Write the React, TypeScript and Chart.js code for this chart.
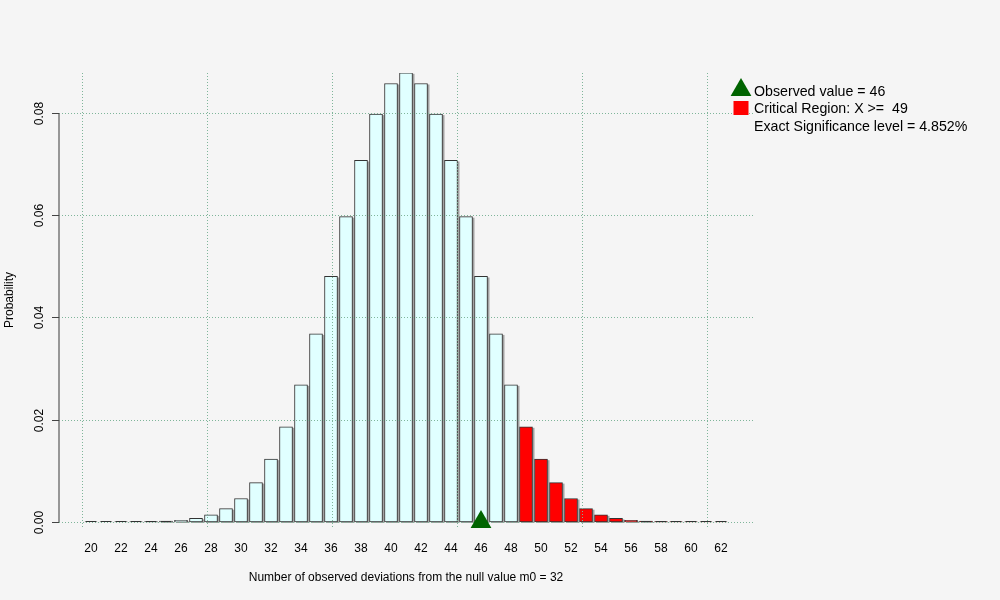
import React, { useEffect, useRef } from 'react';
import { Chart, registerables } from 'chart.js';

Chart.register(...registerables);

// ---- data ----
const outcomes = [
  20, 21, 22, 23, 24, 25, 26, 27, 28, 29, 30, 31, 32, 33, 34, 35, 36, 37, 38, 39, 40,
  41, 42, 43, 44, 45, 46, 47, 48, 49, 50, 51, 52, 53, 54, 55, 56, 57, 58, 59, 60, 61, 62,
];
const probabilities = [
  0.0000013, 0.0000038, 0.0000105, 0.0000274, 0.0000674, 0.000156, 0.000343, 0.000711,
  0.001397, 0.002601, 0.004594, 0.007707, 0.01228, 0.01861, 0.02682, 0.03678, 0.04802,
  0.0597, 0.0707, 0.07977, 0.08575, 0.08784, 0.08575, 0.07977, 0.0707, 0.0597, 0.04802,
  0.03678, 0.02682, 0.01861, 0.01228, 0.007707, 0.004594, 0.002601, 0.001397, 0.000711,
  0.000343, 0.000156, 0.0000674, 0.0000274, 0.0000105, 0.0000038, 0.0000013,
];
const observedValue = 46;
const criticalValue = 49;
const significanceText = '4.852%';
const xTickValues = [20, 22, 24, 26, 28, 30, 32, 34, 36, 38, 40, 42, 44, 46, 48, 50, 52, 54, 56, 58, 60, 62];
const yTickValues = [0, 0.02, 0.04, 0.06, 0.08];
const yTickLabels = ['0.00', '0.02', '0.04', '0.06', '0.08'];
const xGridValues = [19.4, 27.733, 36.067, 44.4, 52.733, 61.067];
const xAxisTitle = 'Number of observed deviations from the null value m0 = 32';
const yAxisTitle = 'Probability';
const legendLines = [
  `Observed value = ${observedValue}`,
  `Critical Region: X >=  ${criticalValue}`,
  `Exact Significance level = ${significanceText}`,
];

// ---- style ----
const FONT = '"Liberation Sans", Arial, Helvetica, sans-serif';
const BG = '#f5f5f5';
const GRID = '#7fb59a';
const CYAN = '#e0ffff';
const RED = '#ff0000';
const GREEN = '#006400';

const rPlotPlugin = {
  id: 'rPlot',
  beforeDatasetDraw(chart: any, args: any) {
    if (args.index !== 0) return;
    const ctx = chart.ctx;
    ctx.save();
    ctx.fillStyle = '#a3a3a3';
    chart.getDatasetMeta(0).data.forEach((el: any) => {
      const p = el.getProps(['x', 'y', 'base', 'width'], true);
      ctx.fillRect(p.x - p.width / 2 + 2, p.y + 1, p.width, p.base - p.y);
    });
    ctx.restore();
  },
  afterDatasetDraw(chart: any, args: any) {
    if (args.index !== 0) return;
    const { ctx, chartArea: a, scales } = chart;
    const x = scales.x;
    const y = scales.y;
    ctx.save();
    // thin outline on near-zero bars, as in the reference
    ctx.strokeStyle = '#333333';
    ctx.lineWidth = 1;
    chart.getDatasetMeta(0).data.forEach((el: any) => {
      const p = el.getProps(['x', 'y', 'base', 'width'], true);
      if (p.base - p.y < 1.5) {
        ctx.beginPath();
        ctx.moveTo(p.x - p.width / 2 + 1, Math.round(p.base) - 0.5);
        ctx.lineTo(p.x + p.width / 2 - 1, Math.round(p.base) - 0.5);
        ctx.stroke();
      }
    });
    ctx.strokeStyle = GRID;
    ctx.lineWidth = 1;
    ctx.setLineDash([1, 2]);
    yTickValues.forEach((v) => {
      const py = Math.round(y.getPixelForValue(v)) + 0.5;
      ctx.beginPath();
      ctx.moveTo(a.left, py);
      ctx.lineTo(a.right, py);
      ctx.stroke();
    });
    xGridValues.forEach((v) => {
      const px = Math.round(x.getPixelForValue(v)) + 0.5;
      ctx.beginPath();
      ctx.moveTo(px, a.top);
      ctx.lineTo(px, a.bottom);
      ctx.stroke();
    });
    ctx.restore();
  },
  afterDraw(chart: any) {
    const { ctx, chartArea: a, scales } = chart;
    const y = scales.y;
    ctx.save();
    // y axis line
    const y0 = y.getPixelForValue(yTickValues[0]);
    const y1 = y.getPixelForValue(yTickValues[yTickValues.length - 1]);
    ctx.strokeStyle = '#777';
    ctx.lineWidth = 1.5;
    ctx.beginPath();
    ctx.moveTo(a.left, y0);
    ctx.lineTo(a.left, y1);
    ctx.stroke();
    ctx.strokeStyle = '#444';
    ctx.lineWidth = 1;
    ctx.fillStyle = '#000';
    ctx.font = `12px ${FONT}`;
    ctx.textAlign = 'center';
    ctx.textBaseline = 'alphabetic';
    yTickValues.forEach((v, i) => {
      const py = Math.round(y.getPixelForValue(v)) + 0.5;
      ctx.beginPath();
      ctx.moveTo(a.left - 7, py);
      ctx.lineTo(a.left, py);
      ctx.stroke();
      ctx.save();
      ctx.translate(a.left - 16, py);
      ctx.rotate(-Math.PI / 2);
      ctx.fillText(yTickLabels[i], 0, 0);
      ctx.restore();
    });
    // legend
    const mx = a.right - 12;
    const ty = a.top + 17;
    ctx.fillStyle = GREEN;
    ctx.beginPath();
    ctx.moveTo(mx, ty - 12);
    ctx.lineTo(mx + 10.4, ty + 6);
    ctx.lineTo(mx - 10.4, ty + 6);
    ctx.closePath();
    ctx.fill();
    ctx.fillStyle = RED;
    ctx.fillRect(mx - 7.5, a.top + 28, 15, 14);
    ctx.fillStyle = '#000';
    ctx.font = `14.2px ${FONT}`;
    ctx.textAlign = 'left';
    ctx.textBaseline = 'middle';
    legendLines.forEach((t, i) => {
      ctx.fillText(t, a.right + 1, a.top + 19 + i * 17.5);
    });
    ctx.restore();
  },
};

export default function App() {
  const ref = useRef<HTMLCanvasElement>(null);
  useEffect(() => {
    const chart = new Chart(ref.current as HTMLCanvasElement, {
      type: 'bar',
      data: {
        datasets: [
          {
            type: 'bar',
            data: outcomes.map((o, i) => ({ x: o, y: probabilities[i] })),
            backgroundColor: outcomes.map((o) => (o >= criticalValue ? RED : CYAN)),
            borderColor: '#333333',
            borderWidth: 1,
            borderSkipped: false,
            barThickness: 13,
            order: 2,
          } as any,
          {
            type: 'scatter',
            data: [{ x: observedValue, y: 0 }],
            pointStyle: 'triangle',
            pointRadius: 12,
            backgroundColor: GREEN,
            borderColor: GREEN,
            borderWidth: 0,
            clip: false,
            order: 1,
          } as any,
        ],
      },
      options: {
        animation: false,
        responsive: true,
        maintainAspectRatio: false,
        events: [],
        layout: { padding: { top: 73, right: 247, bottom: 0, left: 0 } },
        plugins: { legend: { display: false }, tooltip: { enabled: false } },
        scales: {
          x: {
            type: 'linear',
            position: 'bottom',
            offset: false,
            min: 17.867,
            max: 64.133,
            grid: { display: false, drawTicks: false, offset: false },
            border: { display: false },
            afterBuildTicks: (s: any) => {
              s.ticks = xTickValues.map((v) => ({ value: v }));
            },
            afterFit: (s: any) => {
              s.height = 73;
            },
            ticks: {
              color: '#000',
              font: { family: FONT, size: 12 },
              padding: 14,
              minRotation: 0,
              maxRotation: 0,
              autoSkip: false,
              callback: (v: any) => String(v),
            },
            title: {
              display: true,
              text: xAxisTitle,
              color: '#000',
              font: { family: FONT, size: 12 },
              padding: { top: 0, bottom: 15 },
            },
          },
          y: {
            type: 'linear',
            min: -0.00098,
            max: 0.0878,
            grid: { display: false, drawTicks: false },
            border: { display: false },
            ticks: { display: false },
            afterBuildTicks: (s: any) => {
              s.ticks = yTickValues.map((v) => ({ value: v }));
            },
            afterFit: (s: any) => {
              s.width = 59;
            },
            title: {
              display: true,
              text: yAxisTitle,
              color: '#000',
              font: { family: FONT, size: 12 },
              padding: { top: 2, bottom: 0 },
            },
          },
        },
      } as any,
      plugins: [rPlotPlugin],
    });
    return () => chart.destroy();
  }, []);
  return (
    <div style={{ position: 'fixed', left: 0, top: 0, width: 1000, height: 600, background: BG }}>
      <canvas ref={ref} />
    </div>
  );
}
